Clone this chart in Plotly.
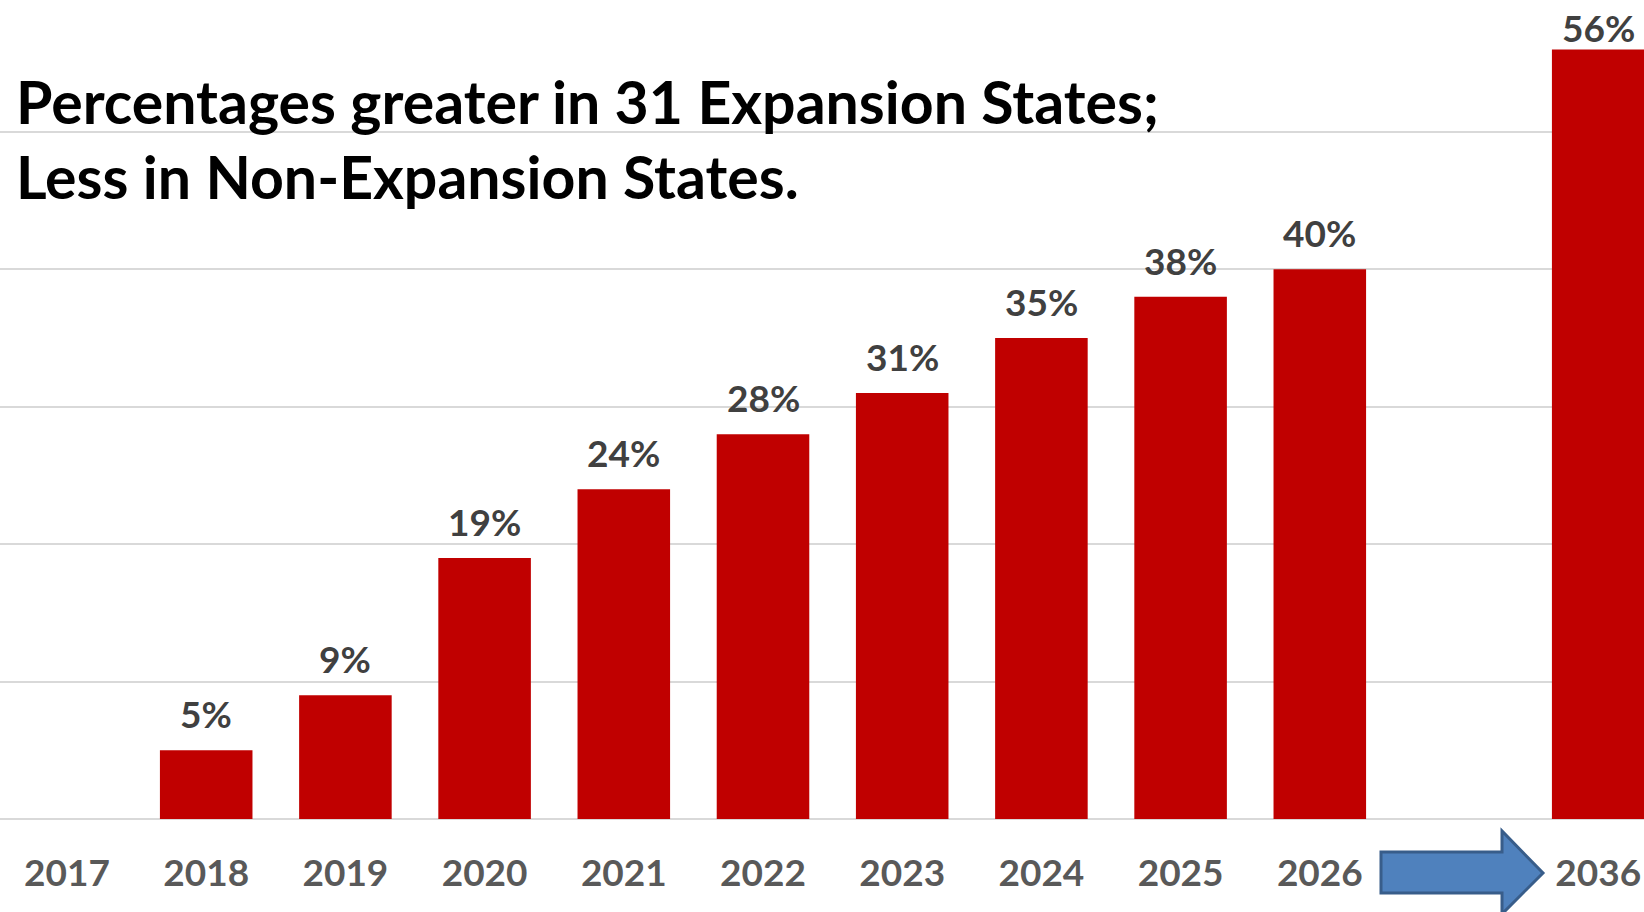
import plotly.graph_objects as go

# Share of spending, by year
years = ["2017", "2018", "2019", "2020", "2021", "2022", "2023", "2024", "2025", "2026", "2036"]
values = [0, 5, 9, 19, 24, 28, 31, 35, 38, 40, 56]
title_lines = ["Percentages greater in 31 Expansion States;", "Less in Non-Expansion States."]

W, H = 1644, 912
BOTTOM = 93
PLOT_H = H - BOTTOM
Y_MAX = 59.6
FONT = "Lato, 'Open Sans', sans-serif"
BAR_RED = "#C00000"

# slot positions: 2036 is set one slot further right, leaving room for the arrow
slots = []
for i, y in enumerate(years):
    slots.append(i if int(y) <= 2026 else i + 1)

fig = go.Figure()
fig.add_trace(go.Bar(
    x=slots, y=values, width=0.665,
    marker=dict(color=BAR_RED, line=dict(width=0)),
    hoverinfo="skip",
))

label_font = dict(family=FONT, size=37, color="#404040", weight=700)

# value labels above bars; a label that would run past the top is pulled inside
for s, v in zip(slots, values):
    if v <= 0:
        continue
    txt = f"{v}%"
    if v > Y_MAX - 6:
        fig.add_annotation(x=s, y=1, xref="x", yref="paper", text=txt,
                           showarrow=False, yanchor="top", yshift=-3,
                           font=label_font)
    else:
        fig.add_annotation(x=s, y=v, xref="x", yref="y", text=txt,
                           showarrow=False, yanchor="bottom", yshift=12,
                           font=label_font)

# title
for k, line in enumerate(title_lines):
    fig.add_annotation(x=14 / W, y=(PLOT_H - (123 + 75 * k)) / PLOT_H,
                       xref="paper", yref="paper", text=line, showarrow=False,
                       xanchor="left", yanchor="bottom", yshift=-16,
                       font=dict(family=FONT, size=59, color="#000000", weight=700))


def px(xp, yp):
    return xp / W, (PLOT_H - yp) / PLOT_H


# block arrow pointing to 2036
pts = [(1381, 852), (1502, 852), (1502, 831), (1543, 873), (1502, 914),
       (1502, 893), (1381, 893)]
path = "M " + " L ".join(f"{px(a, b)[0]:.5f},{px(a, b)[1]:.5f}" for a, b in pts) + " Z"
fig.add_shape(type="path", path=path, xref="paper", yref="paper",
              fillcolor="#4F81BD", line=dict(color="#385D8A", width=3), layer="above")

x0 = -67 / 139.2
fig.update_layout(
    width=W, height=H,
    margin=dict(l=0, r=0, t=0, b=BOTTOM),
    paper_bgcolor="white", plot_bgcolor="white",
    showlegend=False,
    xaxis=dict(
        range=[x0, x0 + W / 139.2],
        tickvals=slots, ticktext=years,
        tickfont=dict(family=FONT, size=37, color="#595959", weight=700),
        showgrid=False, zeroline=False, showline=False,
        ticks="", ticklabelstandoff=29,
    ),
    yaxis=dict(
        range=[0, Y_MAX],
        tickvals=[0, 10, 20, 30, 40, 50],
        showticklabels=False,
        showgrid=True, gridcolor="#D9D9D9", gridwidth=1.5,
        zeroline=True, zerolinecolor="#D9D9D9", zerolinewidth=1.5,
        showline=False,
    ),
)

fig.write_html("out.html")
